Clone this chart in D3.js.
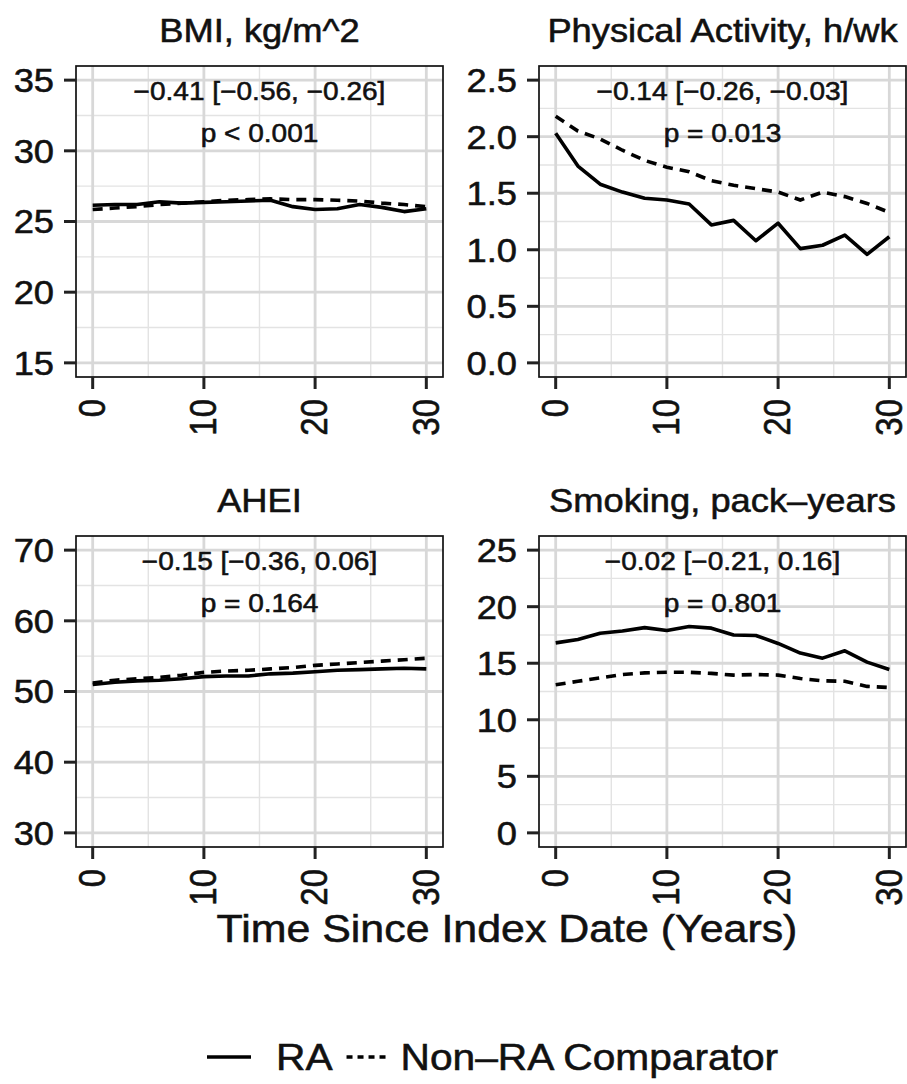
<!DOCTYPE html>
<html>
<head>
<meta charset="utf-8">
<script src="https://cdn.jsdelivr.net/npm/d3@7"></script>
<style>
  html, body { margin: 0; padding: 0; background: #fff; }
  svg { display: block; }
  text { font-family: "Liberation Sans", Arial, Helvetica, sans-serif; fill: #111; stroke: #111; stroke-width: 0.55; }
</style>
</head>
<body>
<script>
// ---------------- data ----------------
const years = [0, 2, 4, 6, 8, 10, 12, 14, 16, 18, 20, 22, 24, 26, 28, 30];
const xTicks = [0, 10, 20, 30];

const bmiRA    = [26.15, 26.2, 26.2, 26.4, 26.3, 26.35, 26.4, 26.45, 26.5, 26.05, 25.85, 25.9, 26.2, 26.0, 25.7, 25.9];
const bmiNonRA = [25.85, 25.95, 26.05, 26.2, 26.3, 26.4, 26.5, 26.55, 26.6, 26.55, 26.55, 26.5, 26.45, 26.3, 26.2, 26.05];

const paRA     = [2.03, 1.74, 1.58, 1.51, 1.455, 1.44, 1.405, 1.22, 1.26, 1.08, 1.235, 1.01, 1.04, 1.13, 0.96, 1.115];
const paNonRA  = [2.18, 2.05, 1.98, 1.88, 1.79, 1.73, 1.69, 1.61, 1.57, 1.54, 1.51, 1.44, 1.51, 1.47, 1.41, 1.33];

const aheiRA    = [51.0, 51.3, 51.5, 51.6, 51.8, 52.1, 52.2, 52.2, 52.5, 52.6, 52.8, 53.0, 53.1, 53.2, 53.3, 53.2];
const aheiNonRA = [51.2, 51.6, 51.8, 52.0, 52.3, 52.7, 52.9, 53.0, 53.2, 53.4, 53.7, 53.9, 54.1, 54.3, 54.5, 54.7];

const smkRA    = [16.8, 17.1, 17.65, 17.85, 18.15, 17.9, 18.25, 18.1, 17.5, 17.45, 16.75, 15.9, 15.45, 16.1, 15.1, 14.45];
const smkNonRA = [13.1, 13.4, 13.7, 14.0, 14.15, 14.2, 14.2, 14.1, 13.95, 14.0, 13.95, 13.65, 13.45, 13.4, 12.95, 12.85];

const titles = ["BMI, kg/m^2", "Physical Activity, h/wk", "AHEI", "Smoking, pack\u2013years"];
const estLabels = ["\u22120.41 [\u22120.56, \u22120.26]", "\u22120.14 [\u22120.26, \u22120.03]", "\u22120.15 [\u22120.36, 0.06]", "\u22120.02 [\u22120.21, 0.16]"];
const pLabels = ["p < 0.001", "p = 0.013", "p = 0.164", "p = 0.801"];

const yTicksBMI  = [15, 20, 25, 30, 35];
const yTicksPA   = [0.0, 0.5, 1.0, 1.5, 2.0, 2.5];
const yTicksAHEI = [30, 40, 50, 60, 70];
const yTicksSMK  = [0, 5, 10, 15, 20, 25];

const seriesNames = ["RA", "Non\u2013RA Comparator"];
const xTitle = "Time Since Index Date (Years)";

// ---------------- layout / style ----------------
const W = 907, H = 1084;
const SX = 1.1; // horizontal glyph stretch seen in the reference
const svg = d3.select("body").append("svg").attr("width", W).attr("height", H);
svg.append("rect").attr("width", W).attr("height", H).attr("fill", "#fff");

function label(g, x, y, s, size, anchor, rot) {
  return g.append("text")
    .attr("transform", `translate(${x},${y}) scale(${SX},1) rotate(${rot || 0})`)
    .attr("text-anchor", anchor)
    .attr("font-size", size)
    .text(s);
}

const panels = [
  { left: 76,  top: 66,  fmt: d3.format("d"),   ticks: yTicksBMI,  ra: bmiRA,  non: bmiNonRA },
  { left: 539, top: 66,  fmt: d3.format(".1f"), ticks: yTicksPA,   ra: paRA,   non: paNonRA },
  { left: 76,  top: 536, fmt: d3.format("d"),   ticks: yTicksAHEI, ra: aheiRA, non: aheiNonRA },
  { left: 539, top: 536, fmt: d3.format("d"),   ticks: yTicksSMK,  ra: smkRA,  non: smkNonRA }
];
const PW = 367, PH = 311;
const TICK = 12;
const tickFont = 33, titleFont = 33, annFont = 25.5;
const DASH = "10,7";
const LW = 3.6;

panels.forEach((p, i) => {
  const g = svg.append("g").attr("transform", `translate(${p.left},${p.top})`);
  const tmin = d3.min(p.ticks), tmax = d3.max(p.ticks);
  const pad = (tmax - tmin) * 0.05;
  const y = d3.scaleLinear().domain([tmin - pad, tmax + pad]).range([PH, 0]);
  const x = d3.scaleLinear().domain([-1.5, 31.5]).range([0, PW]);

  // minor grid
  const xMinor = d3.pairs(xTicks).map(([a, b]) => (a + b) / 2);
  const yMinor = d3.pairs(p.ticks).map(([a, b]) => (a + b) / 2);
  g.selectAll(".xmin").data(xMinor).join("line")
    .attr("x1", d => x(d)).attr("x2", d => x(d)).attr("y1", 0).attr("y2", PH)
    .attr("stroke", "#e3e3e3").attr("stroke-width", 1.4);
  g.selectAll(".ymin").data(yMinor).join("line")
    .attr("y1", d => y(d)).attr("y2", d => y(d)).attr("x1", 0).attr("x2", PW)
    .attr("stroke", "#e3e3e3").attr("stroke-width", 1.4);
  // major grid
  g.selectAll(".xmaj").data(xTicks).join("line")
    .attr("x1", d => x(d)).attr("x2", d => x(d)).attr("y1", 0).attr("y2", PH)
    .attr("stroke", "#d8d8d8").attr("stroke-width", 2.8);
  g.selectAll(".ymaj").data(p.ticks).join("line")
    .attr("y1", d => y(d)).attr("y2", d => y(d)).attr("x1", 0).attr("x2", PW)
    .attr("stroke", "#d8d8d8").attr("stroke-width", 2.8);

  // lines
  const line = d3.line().x((d, k) => x(years[k])).y(d => y(d));
  g.append("path").datum(p.non).attr("d", line)
    .attr("fill", "none").attr("stroke", "#000").attr("stroke-width", LW)
    .attr("stroke-dasharray", DASH);
  g.append("path").datum(p.ra).attr("d", line)
    .attr("fill", "none").attr("stroke", "#000").attr("stroke-width", LW)
    .attr("stroke-linejoin", "round");

  // annotations
  label(g, PW / 2, 34, estLabels[i], annFont, "middle");
  label(g, PW / 2, 76, pLabels[i], annFont, "middle");

  // border
  g.append("rect").attr("width", PW).attr("height", PH)
    .attr("fill", "none").attr("stroke", "#111").attr("stroke-width", 1.7);

  // y axis
  p.ticks.forEach(t => {
    g.append("line").attr("x1", -TICK).attr("x2", 0).attr("y1", y(t)).attr("y2", y(t))
      .attr("stroke", "#222").attr("stroke-width", 3);
    label(g, -TICK - 10, y(t) + tickFont * 0.36, p.fmt(t), tickFont, "end");
  });
  // x axis
  xTicks.forEach(t => {
    g.append("line").attr("x1", x(t)).attr("x2", x(t)).attr("y1", PH).attr("y2", PH + TICK)
      .attr("stroke", "#222").attr("stroke-width", 3);
    label(g, x(t) + tickFont * 0.34 * SX, PH + TICK + 10, String(t), tickFont, "end", -90);
  });

  // title
  label(g, PW / 2, -24, titles[i], titleFont, "middle");
});

// x title
label(svg, 507, 942, xTitle, 39, "middle");

// legend
const lg = svg.append("g");
const ly = 1057, legFont = 37;
lg.append("line").attr("x1", 207).attr("x2", 251).attr("y1", ly).attr("y2", ly)
  .attr("stroke", "#000").attr("stroke-width", LW);
const t1 = label(lg, 276, ly + legFont * 0.36, seriesNames[0], legFont, "start");
const w1 = t1.node().getComputedTextLength() * SX;
const k2 = 276 + w1 + 14;
lg.append("line").attr("x1", k2).attr("x2", k2 + 40).attr("y1", ly).attr("y2", ly)
  .attr("stroke", "#000").attr("stroke-width", LW).attr("stroke-dasharray", "6,5");
label(lg, k2 + 40 + 14, ly + legFont * 0.36, seriesNames[1], legFont, "start");
</script>
</body>
</html>
